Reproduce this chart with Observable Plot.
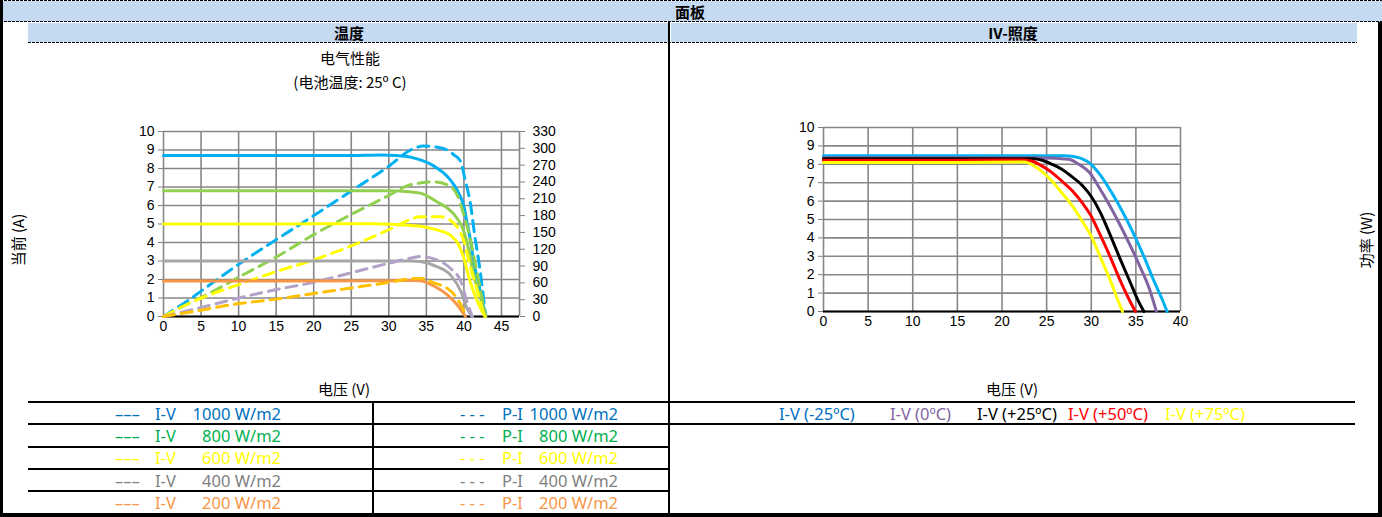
<!DOCTYPE html>
<html>
<head>
<meta charset="utf-8">
<script src="https://cdn.jsdelivr.net/npm/d3@7"></script>
<script src="https://cdn.jsdelivr.net/npm/@observablehq/plot@0.6"></script>
<style>
  body { margin: 0; background: #fff; }
  #page { position: relative; width: 1382px; height: 517px; overflow: hidden; background: #fff;
          font-family: "Liberation Sans", Arial, "Noto Sans CJK SC", sans-serif; }
  .blk { position: absolute; background: #000; }
  .dash { position: absolute; height: 1px;
          background: repeating-linear-gradient(to right, #000 0 3px, transparent 3px 4px); }
  .hdr { position: absolute; background: #c5d9f1; }
  .ctr { position: absolute; transform: translate(-50%, -50%); white-space: pre; }
  .cjk { font-family: "Noto Sans CJK SC", "Liberation Sans", sans-serif; }
  .lg { position: absolute; transform: translateY(-50%); white-space: pre;
        font-family: "Noto Sans", "Liberation Sans", sans-serif; font-size: 16.5px; }
  .lgr { position: absolute; transform: translate(-100%, -50%); white-space: pre;
        font-family: "Noto Sans", "Liberation Sans", sans-serif; font-size: 16.5px; }
</style>
</head>
<body>
<div id="page"></div>
<script>
// ---------- data ----------
const voltageTicksLeft = [0, 5, 10, 15, 20, 25, 30, 35, 40, 45];
const currentTicks = [0, 1, 2, 3, 4, 5, 6, 7, 8, 9, 10];
const powerTicks = [0, 30, 60, 90, 120, 150, 180, 210, 240, 270, 300, 330];
const voltageTicksRight = [0, 5, 10, 15, 20, 25, 30, 35, 40];

const irradianceLabels = ["1000 W/m2", "800 W/m2", "600 W/m2", "400 W/m2", "200 W/m2"];
const irradianceLineColors = ["#00b0f0", "#92d050", "#ffff00", "#a6a6a6", "#f79646"];
const powerLineColors = ["#00b0f0", "#92d050", "#ffff00", "#b3a2c7", "#ffc000"];
const irradianceTextColors = ["#0070c0", "#00b050", "#ffff00", "#808080", "#f79646"];

// I-V curves (V, A) at 25 ºC
const iv1000 = [[0,8.7],[15,8.7],[25,8.7],[29,8.73],[31,8.7],[33,8.6],[34.2,8.47],[35.5,8.25],[36.4,8.03],[37.8,7.57],[38.7,7.1],[39.3,6.67],[40,5.95],[40.4,5.1],[40.9,4.05],[41.3,2.97],[42,1.7],[42.9,0]];
const iv800  = [[0,6.8],[15,6.8],[25,6.8],[30,6.8],[33,6.73],[34.2,6.67],[35.4,6.45],[36.4,6.2],[37.8,5.86],[39.1,5.3],[40,4.6],[40.7,3.5],[41.3,2.25],[42.2,1.0],[42.9,0]];
const iv600  = [[0,5.0],[15,5.0],[28,5.02],[33,4.92],[34.2,4.88],[36.4,4.68],[38.2,4.4],[39.3,3.87],[40,3.15],[40.7,2.07],[41.6,1.0],[42.8,0]];
const iv400  = [[0,3.0],[15,3.0],[30,3.0],[33,3.0],[34.2,2.97],[36.4,2.7],[38.2,2.25],[39.6,1.35],[40.4,0.45],[41.1,0]];
const iv200  = [[0,1.92],[15,1.92],[30,1.93],[33,1.95],[34.2,1.93],[36,1.65],[37.8,1.17],[39.1,0.63],[40.2,0]];

// P-V curves (V, W)
const pv1000 = [[0,0],[3.3,29],[5.7,52],[10,93],[15,137],[20,180],[25,224],[30,268],[32.9,297],[34.6,304],[36.5,302],[38,295],[38.7,288],[39.5,278],[40.2,242],[40.9,198],[41.4,148],[42.1,87],[42.9,0]];
const pv800  = [[0,0],[3.5,24],[6.2,42],[10,70],[15,106],[20,146],[25,182],[30,216],[32.6,234],[34.2,238],[36,240],[37.8,235],[39.1,217],[40,181],[40.9,134],[41.8,74],[42.9,0]];
const pv600  = [[0,0],[3.5,24],[6.2,39],[10,57],[15,80],[20,101],[25,126],[30,155],[32.5,171],[34.2,178],[36.9,178],[39.1,160],[40,134],[40.9,86],[41.8,45],[42.7,0]];
const pv400  = [[0,0],[3.5,11],[10,33],[15,48],[20,61],[25,78],[30,95],[32.5,103],[34.2,107],[36.4,101],[38.2,86],[39.6,62],[40.4,27],[41.1,0]];
const pv200  = [[0,0],[3.6,8],[10,23],[15,31],[20,41],[25,51],[30,61],[32.6,67],[34.2,68],[36,60],[37.8,50],[38.9,36],[39.7,18],[40.3,0]];

// I-V curves at 1000 W/m2 for various temperatures
const temperatureLabels = ["I-V (-25ºC)", "I-V (0ºC)", "I-V (+25ºC)", "I-V (+50ºC)", "I-V (+75ºC)"];
const temperatureLineColors = ["#00b0f0", "#8064a2", "#000000", "#ff0000", "#ffff00"];
const temperatureTextColors = ["#0070c0", "#8064a2", "#000000", "#ff0000", "#ffff00"];
const ivM25 = [[0,8.47],[15,8.47],[27,8.47],[28,8.42],[29,8.29],[30,8.0],[31,7.42],[32,6.69],[33,5.87],[34,4.96],[35,3.96],[36,2.87],[37,1.69],[38,0.6],[38.5,0]];
const iv0   = [[0,8.36],[15,8.36],[24,8.36],[26,8.33],[27.5,8.27],[28.6,8.0],[29.8,7.55],[30.9,6.73],[32.1,5.73],[33.2,4.73],[34.4,3.55],[35.5,2.4],[36.5,1.25],[37.3,0]];
const iv25  = [[0,8.3],[15,8.3],[23.5,8.3],[24.5,8.22],[25.6,8.0],[26.7,7.73],[27.9,7.3],[29,6.85],[30,6.25],[31,5.4],[32,4.3],[33.2,2.9],[34.4,1.55],[35.2,0.65],[35.9,0]];
const iv50  = [[0,8.22],[15,8.22],[22.5,8.24],[23.5,8.15],[24.5,7.9],[25.6,7.55],[26.7,7.09],[27.9,6.55],[29,5.9],[30,5.18],[30.9,4.27],[32.1,3.0],[33.2,1.73],[34.4,0.5],[34.95,0]];
const iv75  = [[0,8.1],[15,8.1],[22.5,8.13],[23.3,8.0],[24.4,7.64],[25.6,7.09],[26.7,6.45],[27.9,5.73],[29,4.9],[30,4.09],[30.9,3.09],[32.1,1.73],[33,0.6],[33.5,0]];

// ---------- layout helpers ----------
const page = document.getElementById("page");
function el(cls, style, text) {
  const d = document.createElement("div");
  d.className = cls;
  Object.assign(d.style, style);
  if (text != null) d.textContent = text;
  page.appendChild(d);
  return d;
}
const px = v => v + "px";

// header rows
el("hdr", {left: "0px", top: "1px", width: "1382px", height: "21px"});
el("dash", {left: "0px", top: "0px", width: "1382px"});
el("dash", {left: "0px", top: "21px", width: "1382px"});
el("hdr", {left: "28px", top: "23px", width: "641px", height: "19px"});
el("hdr", {left: "671px", top: "23px", width: "686px", height: "19px"});
el("dash", {left: "28px", top: "42px", width: "1329px"});
el("ctr cjk", {left: "690px", top: "11px", fontSize: "15px", fontWeight: "bold"}, "面板");
el("ctr cjk", {left: "349px", top: "32px", fontSize: "15px", fontWeight: "bold"}, "温度");
el("ctr cjk", {left: "1013px", top: "32px", fontSize: "15px", fontWeight: "bold"}, "IV-照度");

// borders
el("blk", {left: "0px", top: "0px", width: "3px", height: "517px"});
el("blk", {left: "1378px", top: "22px", width: "4px", height: "495px"});
el("blk", {left: "0px", top: "513px", width: "1382px", height: "4px"});
el("blk", {left: "668px", top: "22px", width: "2px", height: "495px"});

// titles
el("ctr cjk", {left: "350px", top: "57px", fontSize: "15px"}, "电气性能");
el("ctr cjk", {left: "350px", top: "81px", fontSize: "15px"}, "(电池温度: 25º C)");
el("ctr cjk", {left: "344px", top: "388px", fontSize: "15px"}, "电压 (V)");
el("ctr cjk", {left: "1012px", top: "388px", fontSize: "15px"}, "电压 (V)");
el("ctr cjk", {left: "17px", top: "240px", fontSize: "15px", transform: "translate(-50%,-50%) rotate(-90deg)"}, "当前 (A)");
el("ctr cjk", {left: "1365px", top: "240px", fontSize: "15px", transform: "translate(-50%,-50%) rotate(-90deg)"}, "功率 (W)");

// legend grid lines
el("blk", {left: "28px", top: "401px", width: "1327px", height: "2px"});
el("blk", {left: "28px", top: "423px", width: "1327px", height: "2px"});
[446, 468, 490].forEach(y => el("blk", {left: "28px", top: px(y), width: "641px", height: "2px"}));
el("blk", {left: "372px", top: "401px", width: "2px", height: "112px"});

// left legend rows
const rowCenters = [412.5, 435, 457, 479.5, 502];
irradianceLabels.forEach((lab, i) => {
  const c = irradianceTextColors[i];
  const y = px(rowCenters[i]);
  el("lg", {left: "115px", top: y, color: c}, "–––");
  el("lg", {left: "155px", top: y, color: c}, "I-V");
  el("lgr", {left: "281px", top: y, color: c}, lab);
  el("lg", {left: "460px", top: y, color: c}, "- - -");
  el("lg", {left: "502px", top: y, color: c}, "P-I");
  el("lgr", {left: "618px", top: y, color: c}, lab);
});
// right legend
const tempX = [779, 890, 977, 1068, 1165];
temperatureLabels.forEach((lab, i) => {
  el("lg", {left: px(tempX[i]), top: "412.5px", color: temperatureTextColors[i]}, lab);
});

// ---------- charts ----------
const gridStyle = {stroke: "#878787", strokeOpacity: 1, strokeWidth: 1.6};
const axisFont = {fontFamily: "'Liberation Sans', Arial, sans-serif", fontSize: "14px", color: "#000", background: "transparent", overflow: "visible"};
const X = d => d[0], Y = d => d[1];
const wattsPerUnit = 33; // 330 W on the right axis spans 10 A on the left axis

const ivSeries = [iv1000, iv800, iv600, iv400, iv200];
const pvSeries = [pv1000, pv800, pv600, pv400, pv200];
const leftMarks = [
  Plot.gridX(voltageTicksLeft, gridStyle),
  Plot.gridY(currentTicks, gridStyle),
  Plot.ruleX([47.4], gridStyle),
  Plot.axisX({ticks: voltageTicksLeft, tickSize: 0, tickPadding: 5, label: null}),
  Plot.axisY({ticks: currentTicks, tickSize: 5, tickPadding: 4, stroke: "#808080", label: null}),
  Plot.axisY({anchor: "right", ticks: powerTicks.map(p => p / wattsPerUnit), tickFormat: d => String(Math.round(d * wattsPerUnit)), tickSize: 5, tickPadding: 8, stroke: "#808080", label: null}),
  Plot.ruleY([0], {stroke: "#000", strokeWidth: 2})
];
ivSeries.forEach((s, i) => {
  leftMarks.push(Plot.line(s, {x: X, y: Y, stroke: irradianceLineColors[i], strokeWidth: 3, curve: "monotone-x"}));
  leftMarks.push(Plot.line(pvSeries[i], {x: X, y: d => d[1] / wattsPerUnit, stroke: powerLineColors[i], strokeWidth: 3, strokeDasharray: "11,7", curve: "monotone-x"}));
});

const leftChart = Plot.plot({
  width: 480, height: 230,
  marginLeft: 63, marginRight: 61, marginTop: 21, marginBottom: 24,
  x: {domain: [0, 47.4]},
  y: {domain: [0, 10]},
  style: axisFont,
  marks: leftMarks
});
leftChart.style.position = "absolute";
leftChart.style.left = "100px";
leftChart.style.top = "110px";
page.appendChild(leftChart);

const tempSeries = [ivM25, iv0, iv25, iv50, iv75];
const rightMarks = [
  Plot.gridX(voltageTicksRight, gridStyle),
  Plot.gridY(currentTicks, gridStyle),
  Plot.axisX({ticks: voltageTicksRight, tickSize: 0, tickPadding: 5, label: null}),
  Plot.axisY({ticks: currentTicks, tickSize: 5, tickPadding: 4, stroke: "#808080", label: null}),
  Plot.ruleY([0], {stroke: "#000", strokeWidth: 2})
];
tempSeries.forEach((s, i) => {
  rightMarks.push(Plot.line(s, {x: X, y: Y, stroke: temperatureLineColors[i], strokeWidth: 3, curve: "monotone-x"}));
});
const rightChart = Plot.plot({
  width: 450, height: 230,
  marginLeft: 63, marginRight: 30, marginTop: 17, marginBottom: 29,
  x: {domain: [0, 40]},
  y: {domain: [0, 10]},
  style: axisFont,
  marks: rightMarks
});
rightChart.style.position = "absolute";
rightChart.style.left = "760px";
rightChart.style.top = "110px";
page.appendChild(rightChart);
</script>
</body>
</html>
